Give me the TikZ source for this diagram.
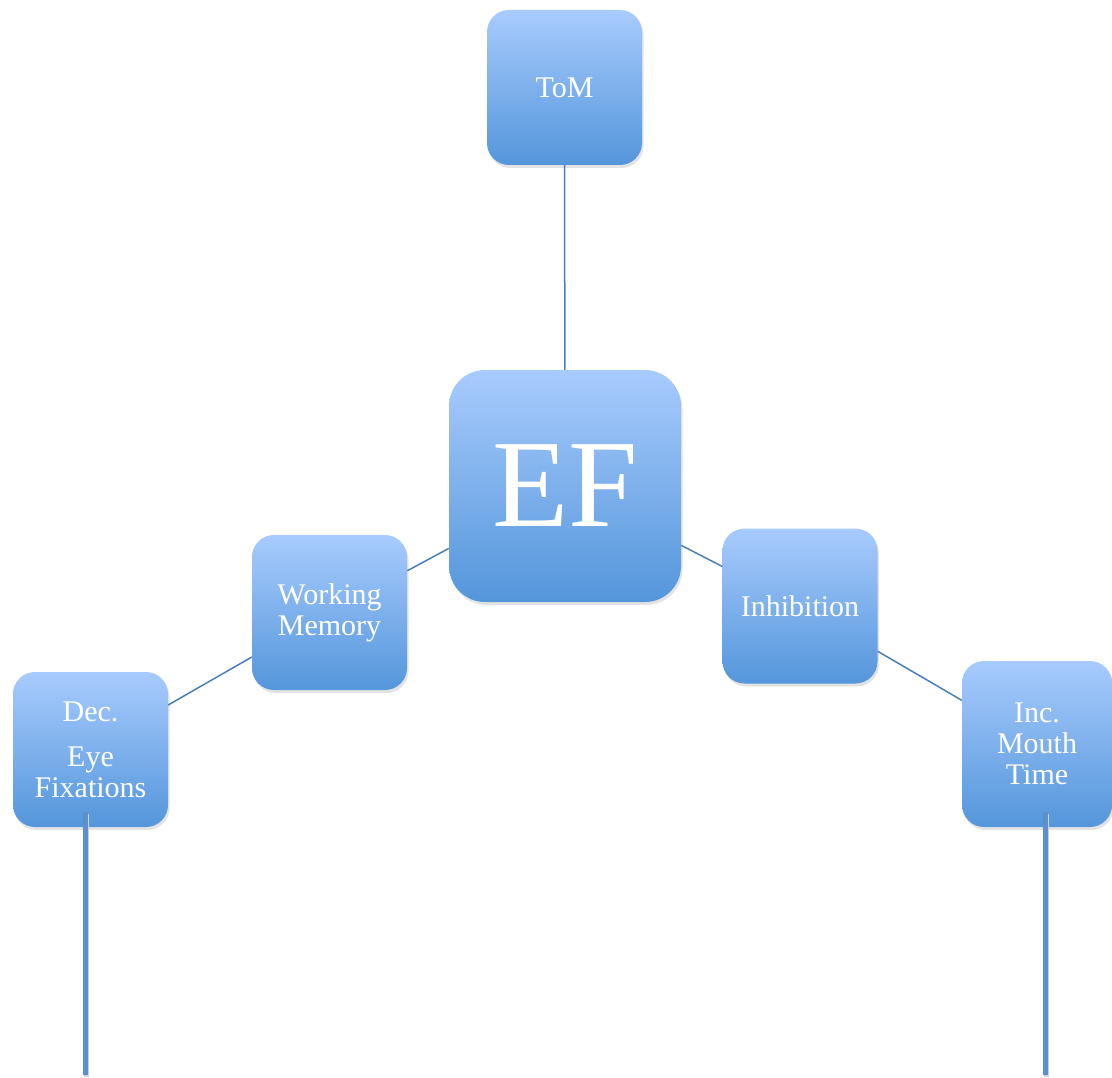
\documentclass[tikz,border=0pt]{standalone}
\usepackage{fontspec}
\setmainfont{Liberation Serif}
\usetikzlibrary{shadows}
\definecolor{boxtop}{RGB}{168,203,253}
\definecolor{boxbot}{RGB}{84,150,219}
\definecolor{linkc}{RGB}{74,126,187}
\definecolor{thickc}{RGB}{91,143,207}
\begin{document}
\begin{tikzpicture}[x=1pt,y=-1pt,
  box/.style={rectangle, rounded corners=22pt, top color=boxtop, bottom color=boxbot,
    draw=none, text=white, align=center, font=\fontsize{30}{31}\selectfont,
    minimum width=155pt, minimum height=155pt, inner sep=0pt,
    drop shadow={opacity=0.22, shadow xshift=1.5pt, shadow yshift=-3pt}},
  link/.style={draw=linkc, line width=1.5pt},
  thickline/.style={draw=thickc, line width=5pt},
  thickshadow/.style={draw=black!18, line width=5pt}]
\useasboundingbox (0,0) rectangle (1112,1078);
\node[box] (tom) at (564.5,87.5) {ToM};
\node[box, minimum width=232pt, minimum height=232pt, rounded corners=36pt,
  font=\fontsize{125}{125}\selectfont] (ef) at (565,486) {EF};
\node[box] (wm) at (329.5,612.5) {Working\\Memory};
\node[box] (inh) at (800,606) {Inhibition};
\node[box] (dec) at (90.5,749.5) {Dec.\\[14pt]Eye\\Fixations};
\node[box, minimum width=150pt, minimum height=166pt] (inc) at (1037,744) {Inc.\\Mouth\\Time};
\draw[link] (tom) -- (ef);
\draw[link] (ef) -- (wm);
\draw[link] (ef) -- (inh);
\draw[link] (wm) -- (dec);
\draw[link] (inh) -- (inc);
\coordinate (d1) at (85,812);
\coordinate (d2) at (85,1075);
\coordinate (i1) at (1045,812);
\coordinate (i2) at (1045,1075);
\draw[thickshadow] ([xshift=1.5pt,yshift=-1.5pt]d1) -- ([xshift=1.5pt,yshift=-1.5pt]d2);
\draw[thickshadow] ([xshift=1.5pt,yshift=-1.5pt]i1) -- ([xshift=1.5pt,yshift=-1.5pt]i2);
\draw[thickline] (d1) -- (d2);
\draw[thickline] (i1) -- (i2);
\end{tikzpicture}
\end{document}
